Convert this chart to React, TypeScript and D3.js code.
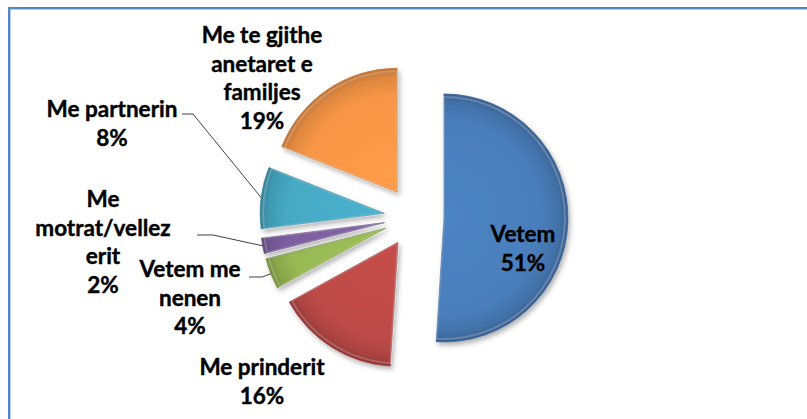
import React from 'react';
import * as d3 from 'd3';

// slice data, clockwise from 12 o'clock
const categories = [
  'Vetem',
  'Me prinderit',
  'Vetem me nenen',
  'Me motrat/vellezerit',
  'Me partnerin',
  'Me te gjithe anetaret e familjes',
];
const values = [51, 16, 4, 2, 8, 19];
// how the label text wraps in the picture
const labelLines = [
  ['Vetem'],
  ['Me prinderit'],
  ['Vetem me', 'nenen'],
  ['Me', 'motrat/vellez', 'erit'],
  ['Me partnerin'],
  ['Me te gjithe', 'anetaret e', 'familjes'],
];
const colors = ['#4a7ebb', '#be4b48', '#98b954', '#7d60a0', '#46aac5', '#f79646'];

const W = 807;
const H = 419;
const cx = 414;
const cy = 217;
const R = 124;
const explode = 30;
const lineH = 28.7;

// label placement: centre x, first baseline
const labelAt = [
  [523, 242],
  [262, 375],
  [190, 277],
  [103, 207],
  [112, 117],
  [262, 43],
];
// leader line start and elbow (x, y, elbowX); null = no leader
const leaderFrom: (number[] | null)[] = [
  null,
  null,
  [249, 277, 262],
  [197, 235, 213],
  [182, 114, 193],
  null,
];

const App = () => {
  const pie = d3
    .pie<number>()
    .sort(null)
    .value((d) => d);
  const arcs = pie(values);
  const arc = d3.arc<d3.PieArcDatum<number>>().innerRadius(0).outerRadius(R);
  const innerArc = d3.arc<d3.PieArcDatum<number>>().innerRadius(0).outerRadius(R - 3);

  const slices = arcs.map((a, i) => {
    const mid = (a.startAngle + a.endAngle) / 2;
    const ox = cx + Math.sin(mid) * explode;
    const oy = cy - Math.cos(mid) * explode;
    const edge = [ox + Math.sin(mid) * R, oy - Math.cos(mid) * R];
    return { a, i, ox, oy, edge };
  });

  const font = 'Lato, "Open Sans", sans-serif';

  return (
    <svg
      width={W}
      height={H}
      style={{ position: 'absolute', left: 0, top: 0, background: '#fff' }}
    >
      <defs>
        {slices.map(({ i }) => {
          const base = d3.color(colors[i])!;
          return (
            <radialGradient
              key={i}
              id={`g${i}`}
              gradientUnits='userSpaceOnUse'
              cx={0}
              cy={0}
              r={R}
            >
              <stop offset='0%' stopColor={base.brighter(0.12).formatHex()} />
              <stop offset='78%' stopColor={base.formatHex()} />
              <stop offset='93%' stopColor={base.darker(0.3).formatHex()} />
              <stop offset='100%' stopColor={base.darker(0.75).formatHex()} />
            </radialGradient>
          );
        })}
        <filter id='shadow' x='-20%' y='-20%' width='140%' height='140%'>
          <feDropShadow dx='2' dy='3' stdDeviation='2.5' floodColor='#000' floodOpacity='0.3' />
        </filter>
      </defs>

      {/* chart area border */}
      <rect x={9} y={8} width={W} height={H} fill='none' stroke='#5586c4' strokeWidth={2} />
      <rect x={10.5} y={9.5} width={W} height={H} fill='none' stroke='#b4cdec' strokeWidth={1} />

      {slices.map(({ a, i, ox, oy }) => (
        <g key={i} transform={`translate(${ox},${oy})`} filter='url(#shadow)'>
          <path
            d={arc(a) ?? ''}
            fill={`url(#g${i})`}
            stroke={d3.color(colors[i])!.darker(0.6).formatHex()}
            strokeWidth={0.8}
            strokeLinejoin='round'
          />
          <path
            d={innerArc(a) ?? ''}
            fill='none'
            stroke='#fff'
            strokeOpacity={0.2}
            strokeWidth={2}
            strokeLinejoin='round'
          />
        </g>
      ))}

      {slices.map(({ i, edge }) => {
        const lf = leaderFrom[i];
        if (!lf) return null;
        const pts: [number, number][] = [
          [lf[0], lf[1]],
          [lf[2], lf[1]],
          [edge[0], edge[1]],
        ];
        return (
          <path
            key={`l${i}`}
            d={d3.line()(pts) ?? ''}
            fill='none'
            stroke='#404040'
            strokeWidth={1}
          />
        );
      })}

      {labelLines.map((lines, i) => {
        const all = [...lines, `${values[i]}%`];
        return (
          <text
            key={`t${i}`}
            x={labelAt[i][0]}
            y={labelAt[i][1]}
            textAnchor='middle'
            fontFamily={font}
            fontWeight='bold'
            fontSize={22.5}
            fill='#000'
            stroke='#000'
            strokeWidth={0.4}
          >
            {all.map((s, j) => (
              <tspan key={j} x={labelAt[i][0]} dy={j === 0 ? 0 : lineH}>
                {s}
              </tspan>
            ))}
          </text>
        );
      })}
    </svg>
  );
};

export default App;
